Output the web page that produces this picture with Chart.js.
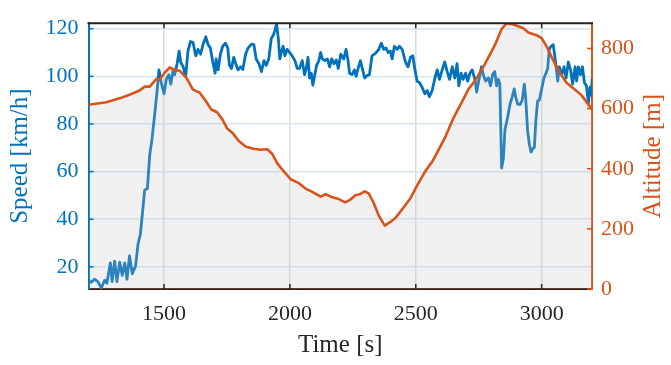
<!DOCTYPE html>
<html><head><meta charset="utf-8">
<script src="https://cdn.jsdelivr.net/npm/chart.js@4/dist/chart.umd.min.js"></script>
<style>html,body{margin:0;padding:0;background:#fff}#wrap{width:671px;height:365px}</style>
</head><body><div id="wrap"><canvas id="c" width="671" height="365"></canvas></div>
<script>
const speedTime=[1200,1211,1224,1237,1251,1264,1273,1287,1294,1304,1313,1324,1334,1344,1353,1363,1374,1387,1397,1406,1416,1423,1434,1443,1452,1463,1472,1480,1489,1500,1509,1519,1527,1536,1542,1552,1560,1566,1576,1586,1595,1605,1615,1626,1635,1645,1655,1666,1675,1684,1695,1703,1707,1715,1724,1733,1744,1753,1760,1768,1777,1787,1794,1804,1813,1824,1834,1848,1857,1866,1877,1887,1897,1906,1916,1926,1934,1940,1947,1954,1960,1967,1973,1980,1989,1999,2009,2020,2029,2038,2049,2058,2065,2072,2078,2085,2091,2099,2106,2115,2122,2129,2139,2149,2158,2166,2175,2184,2192,2202,2214,2223,2231,2237,2247,2256,2263,2271,2280,2289,2297,2306,2316,2326,2340,2353,2363,2373,2382,2390,2399,2406,2415,2426,2435,2446,2459,2469,2479,2488,2496,2505,2515,2525,2536,2545,2554,2565,2576,2585,2594,2605,2615,2625,2634,2645,2655,2664,2671,2680,2688,2698,2706,2715,2724,2735,2742,2751,2761,2768,2777,2788,2797,2805,2814,2821,2828,2834,2841,2848,2854,2865,2874,2883,2891,2898,2905,2914,2923,2931,2936,2944,2951,2958,2964,2971,2977,2984,2991,3000,3009,3017,3024,3030,3037,3046,3056,3064,3070,3080,3089,3097,3106,3115,3123,3133,3139,3146,3154,3162,3170,3178,3186,3192,3199,3200];
const speedValues=[14.4,13.5,14.8,13.8,11.1,14.4,13.1,21.7,13.8,22.4,13.8,22,16.4,21.7,14.8,24.6,17.1,20.4,29.7,33.7,44.3,52.2,52.9,66.8,73.5,84.1,93.4,102.7,97.3,92.7,98.7,100.7,96.7,102.7,100.7,105.3,110.6,106,104,100,110.6,114.6,114.3,108.6,111.3,109.3,113.3,116.6,113.3,111.9,105.3,101.3,107.3,102.7,109.3,112.6,113.9,111.9,104.6,103.3,108,104.6,102.7,104,102.9,109.3,111.9,113.5,113.3,107.3,105.3,102,106.6,104.6,107.3,115.9,117.2,119.2,121.9,115.9,107.3,110.6,112.6,108.6,111.3,110,108.6,106.6,103.3,103.3,106.6,100.7,103.3,108,99.3,101.3,96.3,100.7,104.6,106.6,110,107.3,106.6,107.3,104,107.3,105.3,106.9,103.3,109.3,107.3,111.3,106.6,101.3,100.7,102.7,100,103.3,106.6,102.7,99.3,100.3,100.7,108.6,109.6,111.3,113.9,111.3,111.9,110,110.6,107.3,112.6,111.3,112.6,111.3,106,104,108,108.6,103.3,98,97.3,95.4,92.7,94,91.4,94,99.3,102.7,98.7,102.7,106,102,98.7,104,99.3,105.3,96,101.3,98.7,101.3,98,101.3,102.7,98.7,93.4,98.7,104,100.7,98,99.3,96,100.7,102,96,98.7,96.7,61.5,65.5,77.4,82.8,88.1,91.4,94.7,90.7,88.3,88.1,90,96.7,92,77.4,71.5,68.2,69.5,70.1,81.4,89.7,90,94.7,99.3,101.3,103.3,111.3,112.6,113.3,105.3,98,104,100.7,104,99.3,106,102.7,96.7,104,98,104,100.7,104,97.3,96,88.7,95.4,92,99];
const altTime=[1200,1271,1324,1363,1403,1423,1443,1470,1483,1503,1523,1542,1562,1589,1615,1642,1668,1688,1711,1731,1751,1771,1797,1824,1850,1883,1910,1930,1950,1970,2003,2036,2062,2089,2122,2142,2168,2194,2220,2240,2260,2280,2297,2313,2333,2353,2377,2399,2419,2446,2479,2505,2538,2565,2592,2618,2651,2684,2711,2735,2775,2814,2841,2861,2881,2907,2927,2947,2980,3000,3020,3046,3073,3099,3133,3159,3186,3200];
const altValues=[613,621,634,646,660,673,673,699,697,720,737,728,726,702,663,653,623,597,588,565,534,520,492,474,467,463,465,449,418,397,365,352,334,323,307,315,305,299,288,297,312,316,325,318,286,244,211,223,236,265,302,344,392,423,465,507,571,623,667,692,749,811,865,884,881,874,867,853,844,834,807,760,718,686,663,644,613,597];
const timeTicks=[1500,2000,2500,3000];
const speedTicks=[20,40,60,80,100,120];
const altTicks=[0,200,400,600,800];

const BLUE='#0072BD', ORANGE='#D95319', DARK='#262626';
const FONT='Liberation Serif';

const innerTicks={
  id:'innerTicks',
  afterDraw(chart){
    const ctx=chart.ctx, a=chart.chartArea, sx=chart.scales.x, sy=chart.scales.y, sy2=chart.scales.y2;
    ctx.save();
    ctx.lineWidth=1.5;
    ctx.strokeStyle=BLUE;
    speedTicks.forEach(v=>{const y=sy.getPixelForValue(v);ctx.beginPath();ctx.moveTo(a.left,y);ctx.lineTo(a.left+5,y);ctx.stroke();});
    ctx.strokeStyle=ORANGE;
    altTicks.forEach(v=>{const y=sy2.getPixelForValue(v);ctx.beginPath();ctx.moveTo(a.right,y);ctx.lineTo(a.right-5,y);ctx.stroke();});
    ctx.strokeStyle=DARK;
    timeTicks.forEach(v=>{const x=sx.getPixelForValue(v);ctx.beginPath();ctx.moveTo(x,a.bottom);ctx.lineTo(x,a.bottom-5);ctx.moveTo(x,a.top);ctx.lineTo(x,a.top+5);ctx.stroke();});
    ctx.lineWidth=2;
    ctx.strokeStyle='#222';
    ctx.beginPath();ctx.moveTo(a.left-1,a.top);ctx.lineTo(a.right+1,a.top);ctx.stroke();
    // right axis title, rotated to read bottom-to-top
    ctx.fillStyle=ORANGE;
    ctx.font='25px "'+FONT+'"';
    ctx.textAlign='center';ctx.textBaseline='middle';
    ctx.translate(653,(a.top+a.bottom)/2);
    ctx.rotate(-Math.PI/2);
    ctx.fillText('Altitude [m]',0,0);
    ctx.restore();
  }
};

new Chart(document.getElementById('c'),{
  type:'line',
  data:{datasets:[
    {label:'Altitude',data:altTime.map((t,i)=>({x:t,y:altValues[i]})),yAxisID:'y2',borderColor:ORANGE,borderWidth:2.6,borderJoinStyle:'round',pointRadius:0,fill:'start',backgroundColor:'rgba(190,190,190,0.23)',tension:0,order:0},
    {label:'Speed',data:speedTime.map((t,i)=>({x:t,y:speedValues[i]})),yAxisID:'y',borderColor:BLUE,borderWidth:2.8,borderJoinStyle:'round',pointRadius:0,fill:false,tension:0,order:1}
  ]},
  options:{
    responsive:false,animation:false,devicePixelRatio:1,
    layout:{padding:{top:9,left:0,right:0,bottom:0}},
    plugins:{legend:{display:false},tooltip:{enabled:false}},
    scales:{
      x:{type:'linear',position:'bottom',min:1200,max:3200,
        afterBuildTicks:s=>{s.ticks=timeTicks.map(v=>({value:v}));},
        afterFit:s=>{s.height=76;},
        grid:{color:'rgba(0,0,0,0.14)',lineWidth:1.5,drawTicks:false},
        border:{color:'#3a1a0c',width:2},
        ticks:{padding:12,color:DARK,font:{family:FONT,size:22},maxRotation:0,autoSkip:false,callback:v=>String(v)},
        title:{display:true,text:'Time [s]',color:DARK,font:{family:FONT,size:25},padding:{top:0,bottom:5}}
      },
      y:{type:'linear',position:'left',min:10.7,max:122.3,
        afterBuildTicks:s=>{s.ticks=speedTicks.map(v=>({value:v}));},
        afterFit:s=>{s.width=88.5;},
        grid:{color:'#d6e5f1',lineWidth:1.5,drawTicks:false},
        border:{color:BLUE,width:2},
        ticks:{padding:10,color:BLUE,font:{family:FONT,size:22},callback:v=>String(v)},
        title:{display:true,text:'Speed [km/h]',color:BLUE,font:{family:FONT,size:25},padding:{top:5,bottom:0}}
      },
      y2:{type:'linear',position:'right',min:0,max:884,
        afterBuildTicks:s=>{s.ticks=altTicks.map(v=>({value:v}));},
        afterFit:s=>{s.width=79;},
        grid:{display:false,drawTicks:false},
        border:{color:ORANGE,width:2},
        ticks:{padding:9,color:ORANGE,font:{family:FONT,size:22},callback:v=>String(v)},
        title:{display:false}
      }
    }
  },
  plugins:[innerTicks]
});
</script>
</body></html>
